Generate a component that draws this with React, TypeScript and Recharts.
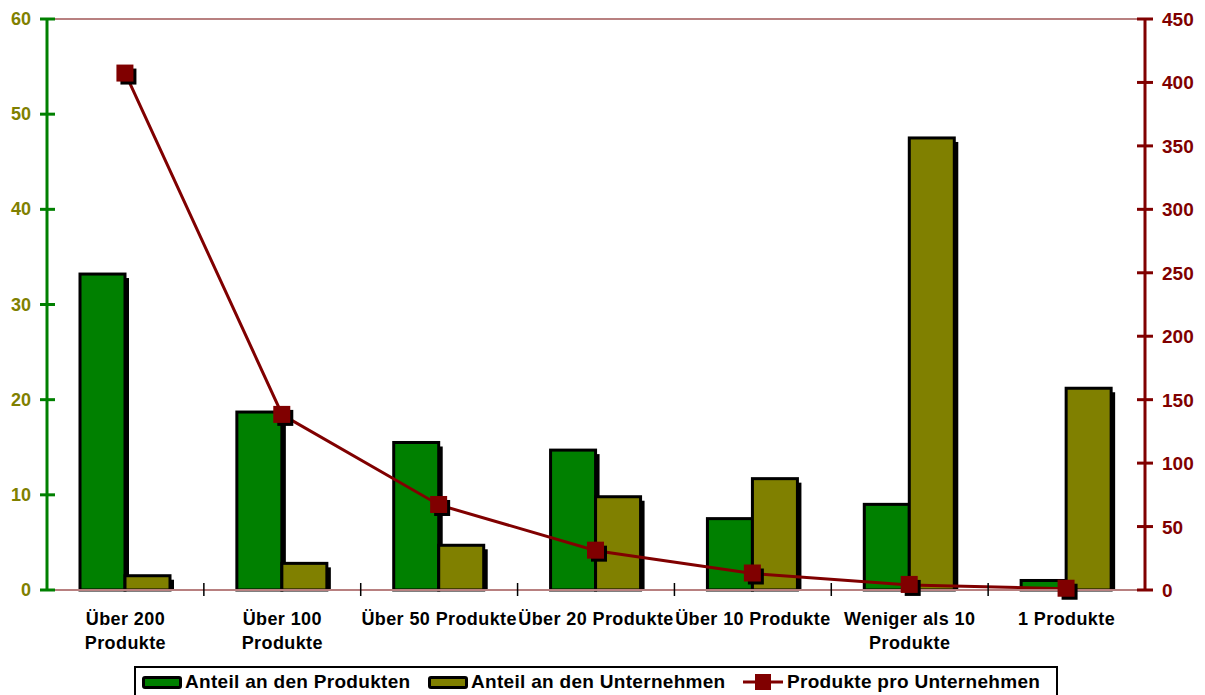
import { ComposedChart, Bar, Line, XAxis, YAxis, ReferenceLine } from "recharts";

const categories = [
  "Über 200\nProdukte",
  "Über 100\nProdukte",
  "Über 50 Produkte",
  "Über 20 Produkte",
  "Über 10 Produkte",
  "Weniger als 10\nProdukte",
  "1 Produkte",
];
const anteilProdukte = [33.2, 18.7, 15.5, 14.7, 7.5, 9.0, 1.0];
const anteilUnternehmen = [1.5, 2.8, 4.7, 9.8, 11.7, 47.5, 21.2];
const produkteProUnternehmen = [407, 138, 67, 31, 13, 4, 1];
const leftTicks = [0, 10, 20, 30, 40, 50, 60];
const rightTicks = [0, 50, 100, 150, 200, 250, 300, 350, 400, 450];

const data = categories.map((name, i) => ({
  name,
  produkte: anteilProdukte[i],
  unternehmen: anteilUnternehmen[i],
  proUnternehmen: produkteProUnternehmen[i],
}));

const GREEN = "#008000";
const OLIVE = "#808000";
const RED = "#800000";
const PINK = "#b88080";
const FONT = "'Liberation Sans', Arial, sans-serif";

const W = 1205;
const H = 695;
const LEFT_W = 47;
const RIGHT_W = 60;
const halfBand = (W - LEFT_W - RIGHT_W) / categories.length / 2;

const ShadowBar = (props: any) => {
  const { x, y, width, height, fill } = props;
  if (!height || height <= 0) return null;
  return (
    <g>
      <rect x={x + 4} y={y + 4} width={width} height={Math.max(height - 4, 0)} fill="#000" />
      <rect x={x} y={y} width={width} height={height} fill={fill} stroke="#000" strokeWidth={3} />
    </g>
  );
};

const SquareDot = (props: any) => {
  const { cx, cy } = props;
  return (
    <g key={`d-${cx}`}>
      <rect x={cx - 5} y={cy - 5} width={16} height={16} fill="#000" />
      <rect x={cx - 9} y={cy - 9} width={17} height={17} fill={RED} />
    </g>
  );
};

const LeftTick = (props: any) => {
  const { x, y, payload } = props;
  return (
    <g>
      <line x1={x - 7} x2={x + 8} y1={y} y2={y} stroke={GREEN} strokeWidth={3} />
      <text x={x - 16} y={y + 6} textAnchor="end" fill={OLIVE} fontSize={18} fontWeight="bold" fontFamily={FONT}>
        {payload.value}
      </text>
    </g>
  );
};

const RightTick = (props: any) => {
  const { x, y, payload } = props;
  return (
    <g>
      <line x1={x - 8} x2={x + 8} y1={y} y2={y} stroke={RED} strokeWidth={3} />
      <text x={x + 17} y={y + 7} textAnchor="start" fill={RED} fontSize={19} fontWeight="bold" fontFamily={FONT}>
        {payload.value}
      </text>
    </g>
  );
};

const CategoryTick = (props: any) => {
  const { x, y, payload, index } = props;
  const lines = String(payload.value).split("\n");
  return (
    <g>
      {index < categories.length - 1 && (
        <line x1={x + halfBand} x2={x + halfBand} y1={y - 7} y2={y + 6} stroke="#000" strokeWidth={1.5} />
      )}
      {lines.map((l, i) => (
        <text
          key={i}
          x={x}
          y={y + 35 + i * 24}
          textAnchor="middle"
          fill="#000"
          fontSize={18}
          letterSpacing={0.4}
          fontWeight="bold"
          fontFamily={FONT}
        >
          {l}
        </text>
      ))}
    </g>
  );
};

const Swatch = ({ color }: { color: string }) => (
  <span
    style={{
      display: "inline-block",
      width: 34,
      height: 7,
      background: color,
      border: "3px solid #000",
      borderRadius: 3,
      marginRight: 3,
    }}
  />
);

const legendText: React.CSSProperties = {
  fontSize: 19,
  fontWeight: "bold",
  fontFamily: FONT,
  color: "#000",
  letterSpacing: 0.3,
  lineHeight: "22px",
};

export default function App() {
  return (
    <div style={{ position: "absolute", left: 0, top: 0, width: W, height: H, background: "#fff" }}>
      <ComposedChart width={W} height={H} data={data} margin={{ top: 19, right: 0, bottom: 0, left: 0 }} barGap={0}>
        <XAxis
          dataKey="name"
          height={105}
          axisLine={{ stroke: PINK, strokeWidth: 2 }}
          tickLine={false}
          tickSize={0}
          tickMargin={0}
          interval={0}
          tick={<CategoryTick />}
        />
        <YAxis
          yAxisId="left"
          orientation="left"
          width={LEFT_W}
          domain={[0, 60]}
          ticks={leftTicks}
          axisLine={{ stroke: GREEN, strokeWidth: 3 }}
          tickLine={false}
          tickSize={0}
          tickMargin={0}
          tick={<LeftTick />}
        />
        <YAxis
          yAxisId="right"
          orientation="right"
          width={RIGHT_W}
          domain={[0, 450]}
          ticks={rightTicks}
          axisLine={{ stroke: RED, strokeWidth: 3 }}
          tickLine={false}
          tickSize={0}
          tickMargin={0}
          tick={<RightTick />}
        />
        <ReferenceLine yAxisId="left" y={60} stroke={PINK} strokeWidth={2} />
        <Bar yAxisId="left" dataKey="produkte" fill={GREEN} barSize={45} shape={<ShadowBar />} isAnimationActive={false} />
        <Bar yAxisId="left" dataKey="unternehmen" fill={OLIVE} barSize={45} shape={<ShadowBar />} isAnimationActive={false} />
        <Line
          yAxisId="right"
          dataKey="proUnternehmen"
          stroke={RED}
          strokeWidth={3}
          type="linear"
          dot={<SquareDot />}
          activeDot={false}
          isAnimationActive={false}
        />
      </ComposedChart>
      <div
        style={{
          position: "absolute",
          left: 134,
          top: 666,
          width: 924,
          height: 32,
          border: "2px solid #000",
          boxSizing: "border-box",
        }}
      >
        <div style={{ position: "absolute", left: 6, top: 3, display: "flex", alignItems: "center" }}>
          <Swatch color={GREEN} />
          <span style={legendText}>Anteil an den Produkten</span>
        </div>
        <div style={{ position: "absolute", left: 292, top: 3, display: "flex", alignItems: "center" }}>
          <Swatch color={OLIVE} />
          <span style={legendText}>Anteil an den Unternehmen</span>
        </div>
        <div style={{ position: "absolute", left: 607, top: 3, display: "flex", alignItems: "center" }}>
          <svg width={40} height={20} style={{ marginRight: 4 }}>
            <line x1={0} x2={40} y1={10} y2={10} stroke={RED} strokeWidth={3} />
            <rect x={12} y={2} width={16} height={16} fill={RED} />
          </svg>
          <span style={legendText}>Produkte pro Unternehmen</span>
        </div>
      </div>
    </div>
  );
}
